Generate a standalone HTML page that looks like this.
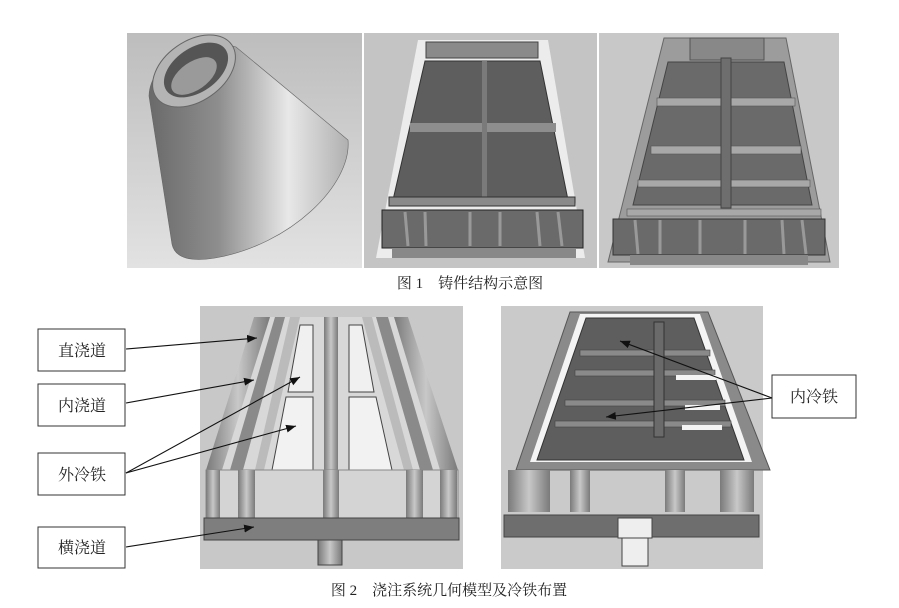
<!DOCTYPE html>
<html><head><meta charset="utf-8"><style>
body{margin:0;background:#fff;}
svg{display:block}
text{font-family:"Liberation Serif","Noto Serif CJK SC","Noto Sans CJK SC",serif;}
</style></head><body>
<svg width="899" height="608" viewBox="0 0 899 608" xmlns="http://www.w3.org/2000/svg">
<defs>
<linearGradient id="bg" x1="0" y1="0" x2="0" y2="1"><stop offset="0" stop-color="#bdbdbd"/><stop offset="1" stop-color="#e2e2e2"/></linearGradient>
<linearGradient id="cone" x1="0" y1="0" x2="1" y2="0"><stop offset="0" stop-color="#6a6a6a"/><stop offset="0.35" stop-color="#8e8e8e"/><stop offset="0.7" stop-color="#e8e8e8"/><stop offset="1" stop-color="#b0b0b0"/></linearGradient>
<linearGradient id="pipe" x1="0" y1="0" x2="1" y2="0"><stop offset="0" stop-color="#7a7a7a"/><stop offset="0.5" stop-color="#c8c8c8"/><stop offset="1" stop-color="#7a7a7a"/></linearGradient>
<marker id="ar" viewBox="0 0 10 10" refX="10" refY="5" markerWidth="9" markerHeight="9" orient="auto-start-reverse"><path d="M0,1 L10,5 L0,9 z" fill="#111"/></marker>
</defs>
<rect width="899" height="608" fill="#fff"/>

<!-- Panel 1: cone -->
<rect x="127" y="33" width="235" height="235" fill="url(#bg)"/>
<path d="M149,96 C150,60 200,35 236,47 L348,140 C352,185 290,245 215,258 C190,262 175,258 172,244 Z" fill="url(#cone)" stroke="#666" stroke-width="0.6"/>
<ellipse cx="194" cy="71" rx="46" ry="30" transform="rotate(-35 194 71)" fill="#b4b4b4" stroke="#666"/>
<ellipse cx="196" cy="70" rx="36" ry="22" transform="rotate(-35 196 70)" fill="#555"/>
<ellipse cx="194" cy="76" rx="26" ry="14" transform="rotate(-35 194 76)" fill="#9a9a9a"/>

<!-- Panel 2 -->
<rect x="364" y="33" width="233" height="235" fill="#c4c4c4"/>
<polygon points="418,40 548,40 585,258 376,258" fill="#ececec"/>
<rect x="426" y="42" width="112" height="16" fill="#8a8a8a" stroke="#444"/>
<polygon points="425,61 540,61 568,200 393,200" fill="#5e5e5e" stroke="#333"/>
<rect x="410" y="123" width="146" height="9" fill="#8e8e8e"/>
<rect x="482" y="61" width="5" height="139" fill="#7a7a7a"/>
<rect x="389" y="197" width="186" height="9" fill="#8a8a8a" stroke="#333"/>
<rect x="382" y="210" width="201" height="38" fill="#6a6a6a" stroke="#222"/>
<g stroke="#999" stroke-width="3"><line x1="405" y1="212" x2="408" y2="246"/><line x1="425" y1="212" x2="426" y2="246"/><line x1="470" y1="212" x2="470" y2="246"/><line x1="500" y1="212" x2="500" y2="246"/><line x1="537" y1="212" x2="540" y2="246"/><line x1="558" y1="212" x2="562" y2="246"/></g>
<rect x="392" y="248" width="184" height="10" fill="#888"/>

<!-- Panel 3 -->
<rect x="599" y="33" width="240" height="235" fill="#c8c8c8"/>
<polygon points="664,38 786,38 830,262 608,262" fill="#9c9c9c" stroke="#666"/>
<polygon points="668,62 784,62 812,205 633,205" fill="#6a6a6a" stroke="#444"/>
<rect x="690" y="38" width="74" height="22" fill="#888" stroke="#555"/>
<g fill="#a8a8a8" stroke="#555" stroke-width="0.6">
<rect x="657" y="98" width="138" height="8"/>
<rect x="651" y="146" width="150" height="8"/>
<rect x="638" y="180" width="172" height="7"/>
<rect x="627" y="209" width="194" height="7"/>
</g>
<rect x="721" y="58" width="10" height="150" fill="#6e6e6e" stroke="#444"/>
<rect x="613" y="219" width="212" height="36" fill="#6a6a6a" stroke="#333"/>
<g stroke="#999" stroke-width="3"><line x1="635" y1="220" x2="638" y2="254"/><line x1="660" y1="220" x2="660" y2="254"/><line x1="700" y1="220" x2="700" y2="254"/><line x1="745" y1="220" x2="745" y2="254"/><line x1="782" y1="220" x2="784" y2="254"/><line x1="802" y1="220" x2="806" y2="254"/></g>
<rect x="630" y="255" width="178" height="10" fill="#888"/>

<text x="470" y="288" font-size="15" text-anchor="middle" fill="#222">图 1　铸件结构示意图</text>

<!-- Bottom-left panel -->
<rect x="200" y="306" width="263" height="263" fill="#c8c8c8"/>
<polygon points="254,317 408,317 458,470 206,470" fill="#d8d8d8"/>
<polygon points="254,317 270,317 222,470 206,470" fill="url(#pipe)"/>
<polygon points="394,317 408,317 458,470 440,470" fill="url(#pipe)"/>
<polygon points="275,317 285,317 243,470 230,470" fill="#8a8a8a"/>
<polygon points="376,317 388,317 433,470 420,470" fill="#8a8a8a"/>
<polygon points="290,317 300,317 264,470 255,470" fill="#bbb"/>
<polygon points="362,317 372,317 413,470 404,470" fill="#bbb"/>
<rect x="324" y="317" width="14" height="153" fill="url(#pipe)"/>
<polygon points="300,325 313,325 313,392 288,392" fill="#f0f0f0" stroke="#444"/>
<polygon points="286,397 313,397 313,470 272,470" fill="#f2f2f2" stroke="#444"/>
<polygon points="349,325 362,325 374,392 349,392" fill="#f0f0f0" stroke="#444"/>
<polygon points="349,397 376,397 392,470 349,470" fill="#f2f2f2" stroke="#444"/>
<rect x="206" y="470" width="252" height="48" fill="#d4d4d4" stroke="#888"/>
<rect x="206" y="470" width="14" height="48" fill="url(#pipe)"/>
<rect x="238" y="470" width="17" height="48" fill="url(#pipe)"/>
<rect x="323" y="470" width="16" height="48" fill="url(#pipe)"/>
<rect x="406" y="470" width="17" height="48" fill="url(#pipe)"/>
<rect x="440" y="470" width="17" height="48" fill="url(#pipe)"/>
<rect x="204" y="518" width="255" height="22" fill="#7e7e7e" stroke="#444"/>
<rect x="318" y="540" width="24" height="25" fill="url(#pipe)" stroke="#444"/>

<!-- Bottom-right panel -->
<rect x="501" y="306" width="262" height="263" fill="#cacaca"/>
<polygon points="570,312 708,312 770,470 516,470" fill="#8a8a8a" stroke="#555"/>
<polygon points="580,314 700,314 752,462 530,462" fill="#f4f4f4"/>
<polygon points="586,318 694,318 744,460 537,460" fill="#5e5e5e" stroke="#333"/>
<g fill="#8a8a8a" stroke="#444" stroke-width="0.6">
<rect x="580" y="350" width="130" height="6"/>
<rect x="575" y="370" width="140" height="6"/>
<rect x="565" y="400" width="160" height="6"/>
<rect x="555" y="421" width="176" height="6"/>
</g>
<rect x="654" y="322" width="10" height="115" fill="#6a6a6a" stroke="#333"/>
<g fill="#f4f4f4"><rect x="676" y="375" width="40" height="5"/><rect x="685" y="405" width="35" height="5"/><rect x="682" y="425" width="40" height="5"/></g>
<rect x="508" y="470" width="42" height="42" fill="url(#pipe)"/>
<rect x="570" y="470" width="20" height="42" fill="url(#pipe)"/>
<rect x="665" y="470" width="20" height="42" fill="url(#pipe)"/>
<rect x="720" y="470" width="34" height="42" fill="url(#pipe)"/>
<rect x="504" y="515" width="255" height="22" fill="#6e6e6e" stroke="#444"/>
<rect x="618" y="518" width="34" height="20" fill="#eee" stroke="#444"/>
<rect x="622" y="538" width="26" height="28" fill="#eee" stroke="#444"/>

<!-- Label boxes -->
<g fill="#fff" stroke="#333" stroke-width="1">
<rect x="38" y="329" width="87" height="42"/>
<rect x="38" y="384" width="87" height="42"/>
<rect x="38" y="453" width="87" height="42"/>
<rect x="38" y="527" width="87" height="41"/>
<rect x="772" y="375" width="84" height="43"/>
</g>
<g font-size="16" fill="#222" text-anchor="middle">
<text x="82" y="356">直浇道</text>
<text x="82" y="411">内浇道</text>
<text x="82" y="480">外冷铁</text>
<text x="82" y="553">横浇道</text>
<text x="814" y="402">内冷铁</text>
</g>
<g stroke="#111" stroke-width="1.1" fill="none" marker-end="url(#ar)">
<line x1="126" y1="349" x2="257" y2="338"/>
<line x1="126" y1="403" x2="254" y2="380"/>
<line x1="126" y1="473" x2="300" y2="377"/>
<line x1="126" y1="473" x2="296" y2="426"/>
<line x1="126" y1="547" x2="254" y2="527"/>
<line x1="772" y1="398" x2="620" y2="341"/>
<line x1="772" y1="398" x2="606" y2="417"/>
</g>

<text x="449" y="595" font-size="15" text-anchor="middle" fill="#222">图 2　浇注系统几何模型及冷铁布置</text>
</svg>
</body></html>
